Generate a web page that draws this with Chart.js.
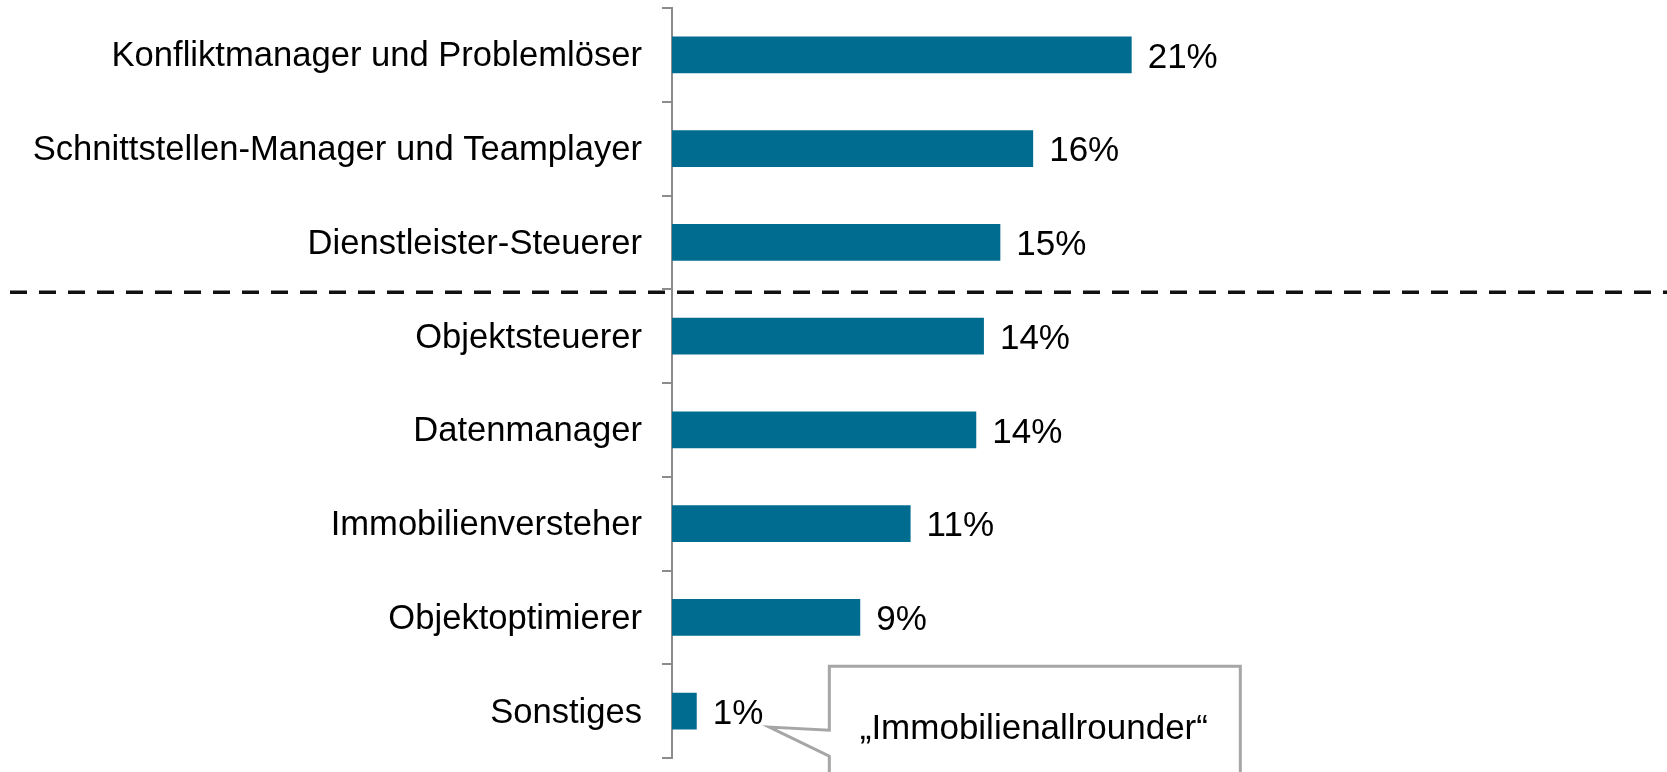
<!DOCTYPE html>
<html>
<head>
<meta charset="utf-8">
<script src="https://cdn.jsdelivr.net/npm/chart.js@4/dist/chart.umd.min.js"></script>
<style>
  html, body { margin: 0; padding: 0; background: #ffffff; }
  #wrap { width: 1667px; height: 772px; }
</style>
</head>
<body>
<div id="wrap"><canvas id="c" width="1667" height="772"></canvas></div>
<script>
const categories = [
  "Konfliktmanager und Problemlöser",
  "Schnittstellen-Manager und Teamplayer",
  "Dienstleister-Steuerer",
  "Objektsteuerer",
  "Datenmanager",
  "Immobilienversteher",
  "Objektoptimierer",
  "Sonstiges"
];
const values = [21.0, 16.5, 15.0, 14.25, 13.9, 10.9, 8.6, 1.13];
const valueLabels = ["21%", "16%", "15%", "14%", "14%", "11%", "9%", "1%"];
const separatorAfterIndex = 2;
const calloutText = "\u201EImmobilienallrounder\u201C";

const FONT = "'Liberation Sans', Arial, sans-serif";

const valueLabelPlugin = {
  id: 'valueLabels',
  afterDatasetsDraw(chart) {
    const ctx = chart.ctx;
    const meta = chart.getDatasetMeta(0);
    ctx.save();
    ctx.font = "35px " + FONT;
    ctx.fillStyle = "#000000";
    ctx.textAlign = "left";
    ctx.textBaseline = "middle";
    meta.data.forEach((bar, i) => {
      ctx.fillText(valueLabels[i], bar.x + 16, bar.y + 3);
    });
    ctx.restore();
  }
};

const separatorPlugin = {
  id: 'separator',
  afterDraw(chart) {
    const ctx = chart.ctx;
    const y = chart.scales.y.getPixelForValue(separatorAfterIndex + 0.5) + 3;
    ctx.save();
    ctx.strokeStyle = "#111111";
    ctx.lineWidth = 3.5;
    ctx.setLineDash([17, 12]);
    ctx.beginPath();
    ctx.moveTo(10, y);
    ctx.lineTo(chart.width, y);
    ctx.stroke();
    ctx.restore();
  }
};

const calloutPlugin = {
  id: 'callout',
  afterDraw(chart) {
    const ctx = chart.ctx;
    const meta = chart.getDatasetMeta(0);
    const last = meta.data[meta.data.length - 1];
    ctx.save();
    ctx.font = "35px " + FONT;
    const lblW = ctx.measureText(valueLabels[valueLabels.length - 1]).width;
    const tipX = last.x + 16 + lblW + 6;
    const tipY = last.y + 16;
    const boxL = tipX + 60;
    const boxT = last.y - 45;
    const boxR = boxL + 411;
    const boxB = chart.height + 30;
    const pUp = tipY + 3;
    const pDn = tipY + 29;
    ctx.beginPath();
    ctx.moveTo(boxL, boxT);
    ctx.lineTo(boxR, boxT);
    ctx.lineTo(boxR, boxB);
    ctx.lineTo(boxL, boxB);
    ctx.lineTo(boxL, pDn);
    ctx.lineTo(tipX, tipY);
    ctx.lineTo(boxL, pUp);
    ctx.closePath();
    ctx.fillStyle = "#ffffff";
    ctx.fill();
    ctx.strokeStyle = "#A6A6A6";
    ctx.lineWidth = 3;
    ctx.lineJoin = "miter";
    ctx.stroke();
    ctx.fillStyle = "#000000";
    ctx.textAlign = "center";
    ctx.textBaseline = "middle";
    ctx.fillText(calloutText, (boxL + boxR) / 2 - 1, tipY + 2);
    ctx.restore();
  }
};

new Chart(document.getElementById('c'), {
  type: 'bar',
  data: {
    labels: categories,
    datasets: [{
      data: values,
      backgroundColor: "#006C8F",
      borderWidth: 0,
      barPercentage: 0.39,
      categoryPercentage: 1.0
    }]
  },
  options: {
    indexAxis: 'y',
    responsive: false,
    devicePixelRatio: 1,
    animation: false,
    layout: { padding: { top: 8, bottom: 14, left: 0, right: 10 } },
    plugins: {
      legend: { display: false },
      tooltip: { enabled: false },
      title: { display: false }
    },
    scales: {
      x: {
        display: false,
        min: 0,
        max: 45
      },
      y: {
        afterFit(scale) {
          scale.width = 672;
          scale.paddingTop = 0;
          scale.paddingBottom = 0;
        },
        grid: {
          display: true,
          offset: true,
          drawOnChartArea: false,
          drawTicks: true,
          tickLength: 10,
          color: "#8C8C8C",
          lineWidth: 2
        },
        border: { display: true, color: "#8C8C8C", width: 2 },
        ticks: {
          color: "#000000",
          font: { family: FONT, size: 34.6 },
          padding: 20,
          labelOffset: 2,
          autoSkip: false
        }
      }
    }
  },
  plugins: [valueLabelPlugin, separatorPlugin, calloutPlugin]
});
</script>
</body>
</html>
